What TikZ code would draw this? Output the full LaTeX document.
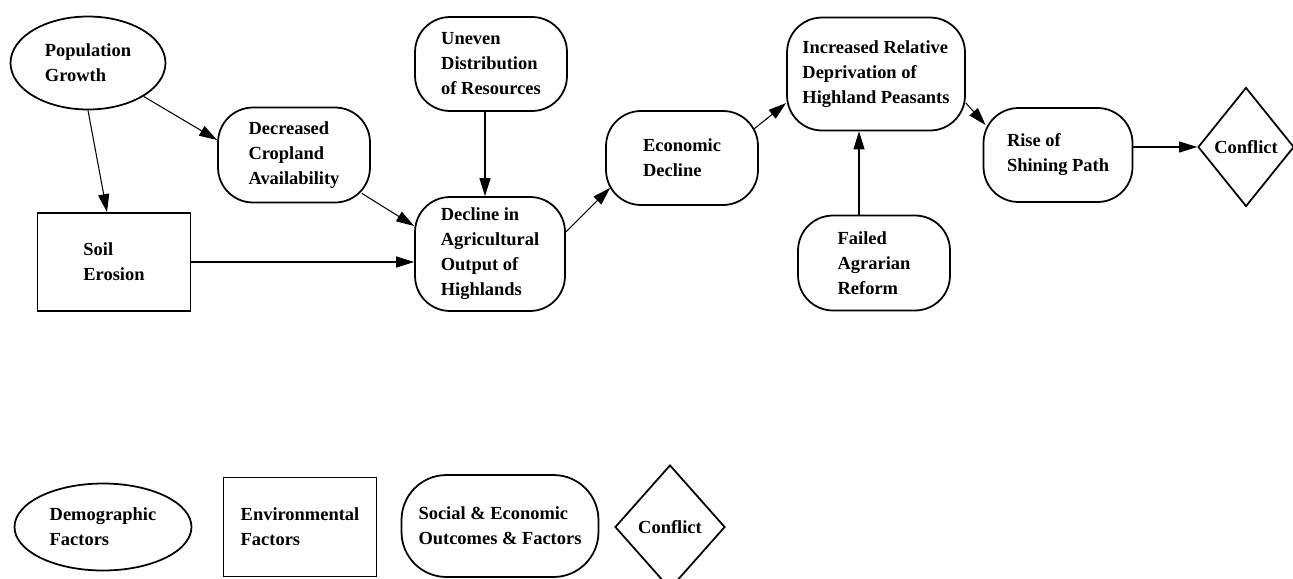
\documentclass[tikz,border=0pt]{standalone}
\usepackage{fontspec}
\setmainfont{Liberation Serif}
\usepackage{tikz}
\usetikzlibrary{shapes.geometric}
\usetikzlibrary{arrows.meta}
\usetikzlibrary{calc}

\newcommand{\boxfont}{\fontsize{10.5}{14.2}\selectfont\bfseries}

\begin{document}
\begin{tikzpicture}[x=0.02cm, y=-0.02cm,
    demog/.style={ellipse, draw, line width=1pt, align=left, font=\boxfont},
    envir/.style={rectangle, draw, line width=1pt, align=left, font=\boxfont},
    socec/.style={rectangle, rounded corners=0.7cm, draw, line width=1pt,
        align=left, font=\boxfont},
    confl/.style={diamond, draw, line width=1pt, inner sep=0pt, font=\boxfont},
    arr/.style={-{Triangle[length=0.36cm, width=0.22cm]}, line width=0.6pt}]
    \useasboundingbox (0,0) rectangle (1293,578);
    \clip (0,0) rectangle (1293,578);
    % causal chain
    \node[demog, minimum width=3.1cm, minimum height=1.86cm] (pop) at (88,63)
        {Population\\Growth};
    \node[socec, minimum width=3.04cm, minimum height=1.9cm] (crop) at (294,155)
        {Decreased\\Cropland\\Availability};
    \node[envir, minimum width=3.06cm, minimum height=1.96cm] (soil) at (114,262)
        {Soil\\Erosion};
    \node[socec, minimum width=3.04cm, minimum height=1.88cm] (uneven) at (491,64)
        {Uneven\\Distribution\\of Resources};
    \node[socec, minimum width=3cm, minimum height=2.28cm] (decline) at (490,254)
        {Decline in\\Agricultural\\Output of\\Highlands};
    \node[socec, minimum width=3.04cm, minimum height=1.88cm] (econ) at (682,158)
        {Economic\\Decline};
    \node[socec, minimum width=3.56cm, minimum height=2.26cm] (depriv) at (876,74)
        {Increased Relative\\Deprivation of\\Highland Peasants};
    \node[socec, minimum width=3.04cm, minimum height=1.9cm] (agrarian) at (874,263)
        {Failed\\Agrarian\\Reform};
    \node[socec, minimum width=2.98cm, minimum height=1.88cm] (rise) at (1058,155)
        {Rise of\\Shining Path};
    \node[confl, minimum width=1.92cm, minimum height=2.38cm] (conf) at (1246,147)
        {Conflict};
    % connectors
    \draw[arr] (pop.south) -- ($(soil.north)+(-7,0)$);
    \draw[arr] (pop.-31) -- ($(crop.west)+(0,-15)$);
    \draw[arr] ($(crop.south east)+(-9,-10)$) -- ($(decline.west)+(0,-28)$);
    \draw[arr] (soil.east) -- (soil.east -| decline.west);
    \draw[arr] ($(uneven.south)+(-6,0)$) -- ($(decline.north)+(-5,0)$);
    \draw[arr] ($(decline.east)+(0,-22)$) -- ($(econ.south west)+(5,-18)$);
    \draw[arr] ($(econ.north east)+(-5,19)$) -- ($(depriv.west)+(0,29)$);
    \draw[arr] ($(depriv.east)+(0,29)$) -- ($(rise.north west)+(3,18)$);
    \draw[arr] ($(agrarian.north)+(-15,0)$) -- ($(depriv.south)+(-17,0)$);
    \draw[arr] (rise.east |- conf.west) -- (conf.west);
    % legend
    \node[demog, minimum width=3.54cm, minimum height=1.74cm] (legdemo) at (103,527)
        {Demographic\\Factors};
    \node[envir, minimum width=3.06cm, minimum height=1.98cm] (legenv) at (300,527)
        {Environmental\\Factors};
    \node[socec, rounded corners=0.9cm, minimum width=3.94cm, minimum height=2.04cm]
        (legsoc) at (500,526) {Social \& Economic\\Outcomes \& Factors};
    \node[confl, minimum width=2.2cm, minimum height=2.48cm] (legconf) at (670,527)
        {Conflict};
\end{tikzpicture}
\end{document}
